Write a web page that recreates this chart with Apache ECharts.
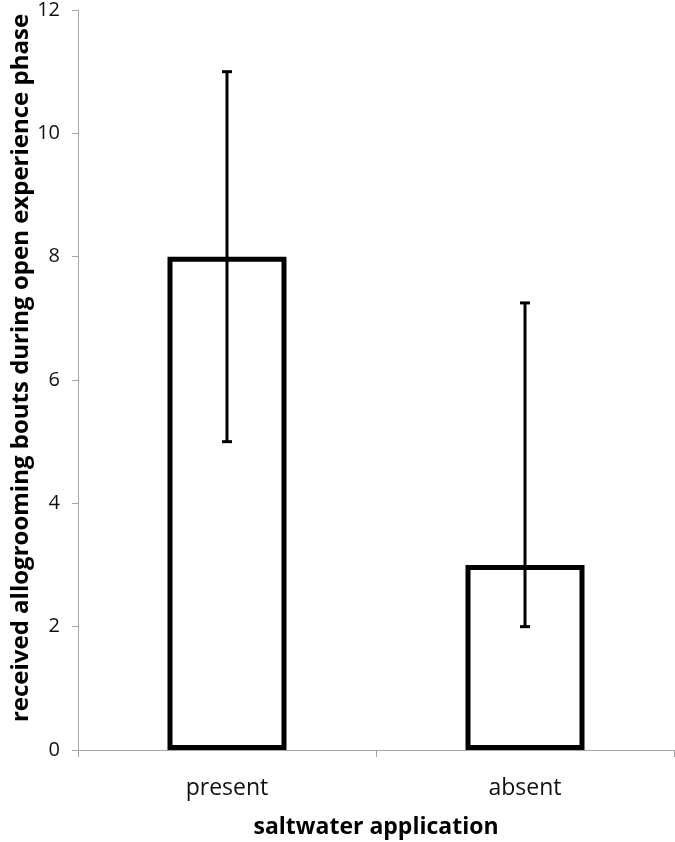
<!DOCTYPE html>
<html><head><meta charset="utf-8">
<script src="https://cdn.jsdelivr.net/npm/echarts@6/dist/echarts.min.js"></script>
<style>html,body{margin:0;padding:0;background:#fff}#c{width:675px;height:842px}</style>
</head><body><div id="c"></div>
<script>
const categories = ['present', 'absent'];
const means = [8, 3];
const errLow = [5, 2];
const errHigh = [11, 7.25];
const yTicks = [0, 2, 4, 6, 8, 10, 12];

const chart = echarts.init(document.getElementById('c'));
const font = '"Open Sans", "Liberation Sans", sans-serif';
chart.setOption({
  animation: false,
  backgroundColor: '#fff',
  grid: { left: 78, right: 1, top: 10, bottom: 92, containLabel: false, outerBoundsMode: 'none' },
  xAxis: {
    type: 'category', data: categories,
    name: 'saltwater application', nameLocation: 'middle', nameGap: 66, nameMoveOverlap: false,
    nameTextStyle: { fontFamily: font, fontWeight: 'bold', fontSize: 23, color: '#000' },
    axisLine: { lineStyle: { color: '#a6a6a6', width: 1 } },
    axisTick: { show: true, length: 7, lineStyle: { color: '#a6a6a6' }, alignWithLabel: false },
    axisLabel: { fontFamily: font, fontSize: 23, color: '#111', margin: 27 }
  },
  yAxis: {
    type: 'value', min: yTicks[0], max: yTicks[yTicks.length - 1], interval: 2,
    name: 'received allogrooming bouts during open experience phase',
    nameLocation: 'middle', nameGap: 45, nameMoveOverlap: false,
    nameTextStyle: { fontFamily: font, fontWeight: 'bold', fontSize: 24, color: '#000', padding: [0, 0, 0, 24] },
    axisLine: { show: true, lineStyle: { color: '#a6a6a6', width: 1 } },
    axisTick: { show: true, length: 6, lineStyle: { color: '#a6a6a6' } },
    axisLabel: { fontFamily: font, fontSize: 20, color: '#111', margin: 18 },
    splitLine: { show: false }
  },
  series: [
    {
      type: 'bar', data: means, barWidth: 119,
      itemStyle: { color: '#fff', borderColor: '#000', borderWidth: 5 },
      z: 2
    },
    {
      type: 'custom',
      data: categories.map((c, i) => [i, errLow[i], errHigh[i]]),
      renderItem: function (params, api) {
        const x = api.value(0);
        const lo = api.coord([x, api.value(1)]);
        const hi = api.coord([x, api.value(2)]);
        const hw = 5;
        const st = { stroke: '#000', lineWidth: 3 };
        return {
          type: 'group',
          children: [
            { type: 'line', shape: { x1: lo[0], y1: lo[1], x2: hi[0], y2: hi[1] }, style: st },
            { type: 'line', shape: { x1: hi[0] - hw, y1: hi[1], x2: hi[0] + hw, y2: hi[1] }, style: st },
            { type: 'line', shape: { x1: lo[0] - hw, y1: lo[1], x2: lo[0] + hw, y2: lo[1] }, style: st }
          ]
        };
      },
      z: 3
    }
  ]
});
</script></body></html>
